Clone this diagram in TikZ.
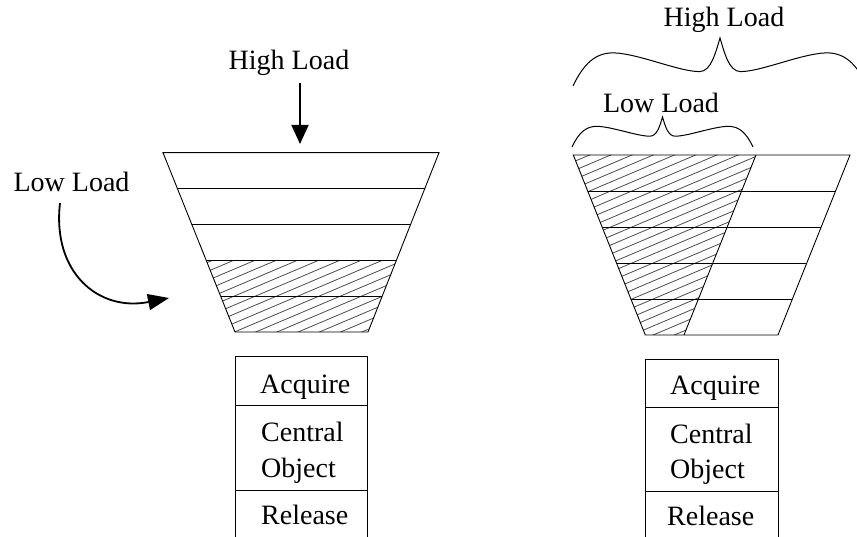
\documentclass[tikz,border=0pt]{standalone}
\usepackage{fontspec}
\setmainfont{Liberation Serif}
\usetikzlibrary{arrows.meta,calc}
\begin{document}
\begin{tikzpicture}[x=1pt,y=-1pt,
  outline/.style={line width=0.9pt, line join=miter},
  hatchline/.style={line width=0.8pt, draw=black!70},
  boxnode/.style={draw, line width=1pt, inner sep=0pt, anchor=north west},
  lbl/.style={font=\fontsize{28}{33}\selectfont, inner sep=0pt},
  bigarrow/.style={line width=1.8pt, -{Triangle[length=19pt,width=17pt]}},
  curvearrow/.style={line width=1.8pt, -{Triangle[length=21pt,width=16pt]}},
  bracestyle/.style={line width=1pt},
]
\useasboundingbox (0,0) rectangle (857,537);

% ---------- left funnel ----------
\coordinate (LTL) at (163,152.7);
\coordinate (LTR) at (439,152.7);
\coordinate (LBL) at (235,332);
\coordinate (LBR) at (368,332);
\begin{scope}
  \clip ($(LTL)!0.6!(LBL)$) -- ($(LTR)!0.6!(LBR)$) -- (LBR) -- (LBL) -- cycle;
  \foreach \i in {0,...,40} \draw[hatchline] (100,200+9*\i) -- (460,200+9*\i-152.6);
\end{scope}
\draw[outline] (LTL) -- (LTR) -- (LBR) -- (LBL) -- cycle;
\foreach \k in {0.2,0.4,0.6,0.8}
  \draw[outline] ($(LTL)!\k!(LBL)$) -- ($(LTR)!\k!(LBR)$);

% ---------- right funnel ----------
\coordinate (RTL) at (573.3,155);
\coordinate (RTR) at (850,155);
\coordinate (RBL) at (645.3,335);
\coordinate (RBR) at (778,335);
\coordinate (RHT) at (756,155);
\coordinate (RHB) at (684,335);
\begin{scope}
  \clip (RTL) -- (RHT) -- (RHB) -- (RBL) -- cycle;
  \foreach \i in {0,...,40} \draw[hatchline] (540,140+9*\i) -- (860,140+9*\i-135.7);
\end{scope}
\draw[outline] (RTL) -- (RTR) -- (RBR) -- (RBL) -- cycle;
\draw[outline] (RHT) -- (RHB);
\foreach \k in {0.2,0.4,0.6,0.8}
  \draw[outline] ($(RTL)!\k!(RBL)$) -- ($(RTR)!\k!(RBR)$);

% ---------- labels ----------
\node[lbl, anchor=base] (hlL) at (289,70) {High Load};
\node[lbl, anchor=base] (llL) at (71.5,192) {Low Load};
\node[lbl, anchor=base] (llR) at (661,113) {Low Load};
\node[lbl, anchor=base] (hlR) at (724,27) {High Load};

% ---------- arrows ----------
\coordinate (a1s) at (300,83);
\coordinate (a1e) at (300,144);
\draw[bigarrow] (a1s) -- (a1e);
\coordinate (c1s) at (60,203);
\coordinate (c1e) at (169,298);
\draw[curvearrow] (c1s) .. controls (52,272) and (98,312) .. (c1e);

% ---------- braces ----------
\begin{scope}[shift={(662.5,147)}, xscale=90.5, yscale=30]
  \draw[bracestyle] (-1,0) .. controls (-0.93,-0.45) and (-0.85,-0.7) .. (-0.72,-0.69)
    .. controls (-0.55,-0.67) and (-0.28,-0.36) .. (-0.14,-0.36)
    .. controls (-0.06,-0.36) and (-0.03,-0.7) .. (0,-1)
    .. controls (0.03,-0.7) and (0.06,-0.36) .. (0.14,-0.36)
    .. controls (0.28,-0.36) and (0.55,-0.67) .. (0.72,-0.69)
    .. controls (0.85,-0.7) and (0.93,-0.45) .. (1,0);
\end{scope}
\begin{scope}[shift={(720,86)}, xscale=147, yscale=48]
  \draw[bracestyle] (-1,0) .. controls (-0.93,-0.45) and (-0.85,-0.7) .. (-0.72,-0.69)
    .. controls (-0.55,-0.67) and (-0.28,-0.3) .. (-0.14,-0.3)
    .. controls (-0.06,-0.3) and (-0.03,-0.7) .. (0,-1)
    .. controls (0.03,-0.7) and (0.06,-0.3) .. (0.14,-0.3)
    .. controls (0.28,-0.3) and (0.55,-0.67) .. (0.72,-0.69)
    .. controls (0.85,-0.7) and (0.93,-0.45) .. (1,0);
\end{scope}

% ---------- boxes ----------
\node[boxnode, minimum width=132pt, minimum height=49pt] (lacq) at (235,356) {};
\node[boxnode, minimum width=132pt, minimum height=84.5pt] (lcen) at (235,405) {};
\node[boxnode, minimum width=132pt, minimum height=70pt] (lrel) at (235,489.5) {};
\node[lbl, anchor=base west] (tlacq) at (260,393) {Acquire};
\node[lbl, anchor=base west] (tlcen) at (261,441) {Central};
\node[lbl, anchor=base west] (tlobj) at (261,477) {Object};
\node[lbl, anchor=base west] (tlrel) at (261,524) {Release};

\node[boxnode, minimum width=133pt, minimum height=48pt] (racq) at (645,359) {};
\node[boxnode, minimum width=133pt, minimum height=84pt] (rcen) at (645,407) {};
\node[boxnode, minimum width=133pt, minimum height=70pt] (rrel) at (645,491) {};
\node[lbl, anchor=base west] (tracq) at (670,394) {Acquire};
\node[lbl, anchor=base west] (trcen) at (670,443) {Central};
\node[lbl, anchor=base west] (trobj) at (670,478) {Object};
\node[lbl, anchor=base west] (trrel) at (667,525) {Release};
\end{tikzpicture}
\end{document}
